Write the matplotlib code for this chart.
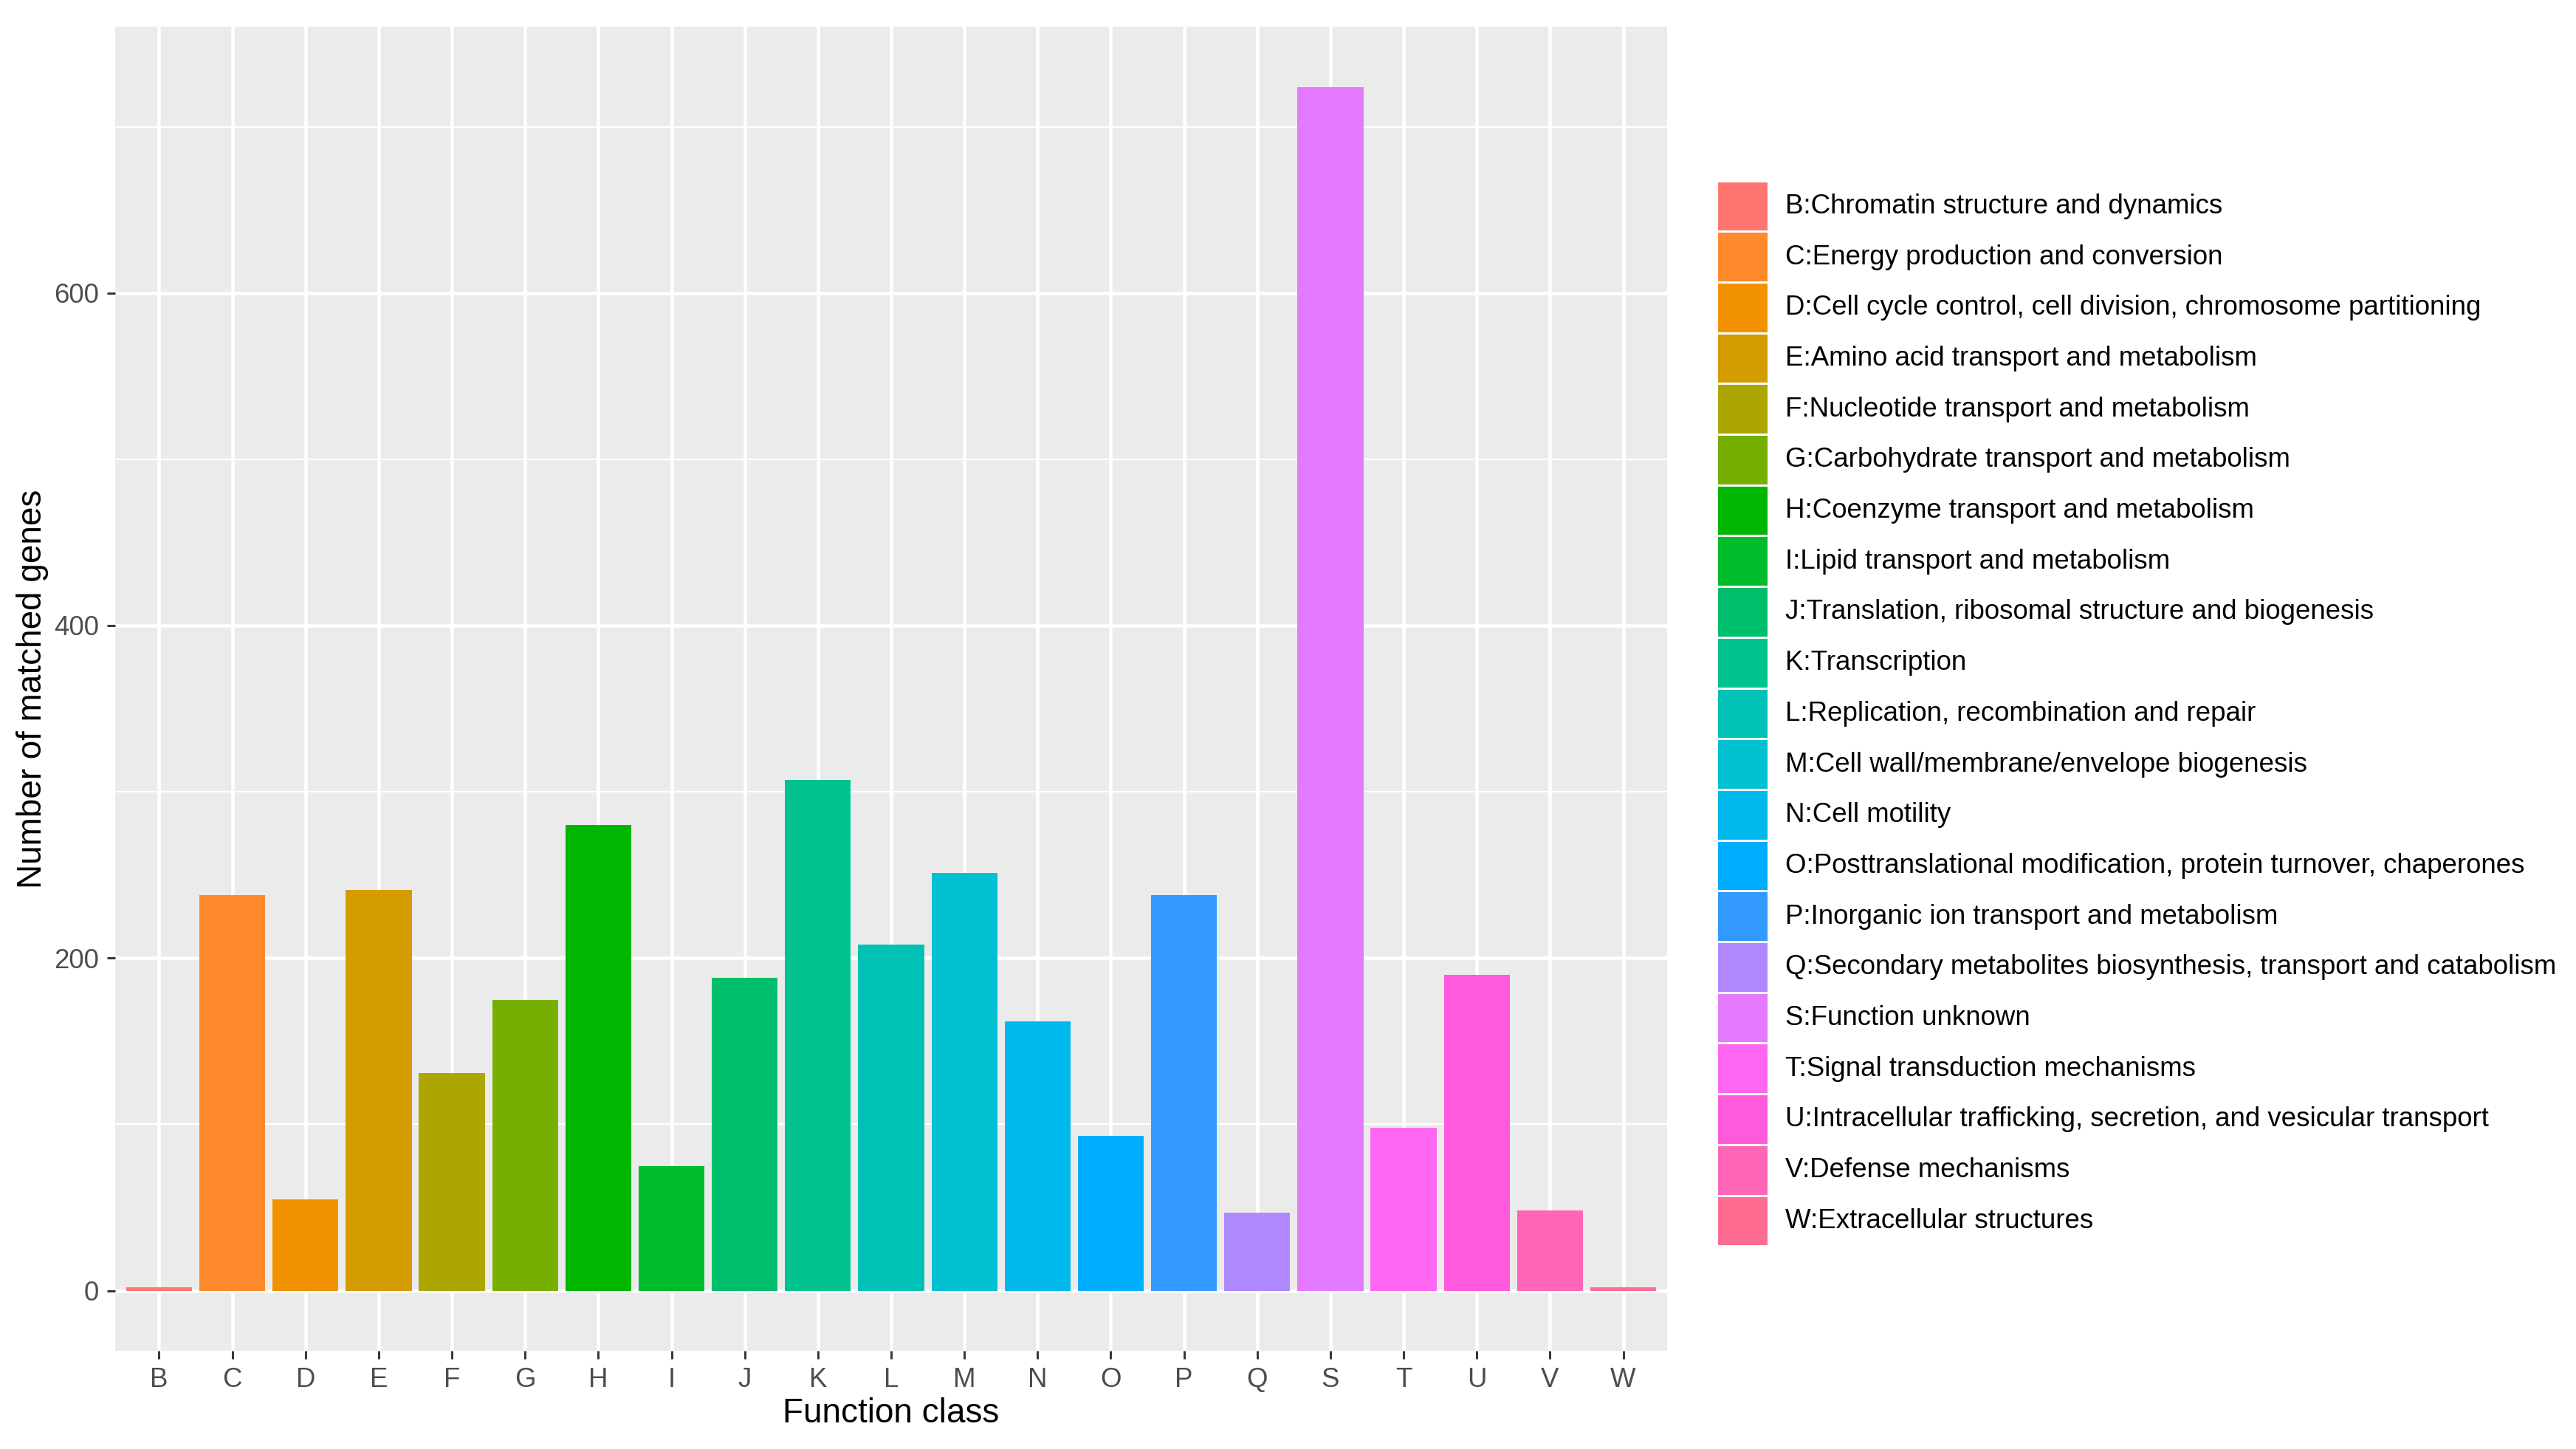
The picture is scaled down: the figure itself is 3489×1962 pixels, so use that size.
import numpy as np
import matplotlib
matplotlib.use("Agg")
import matplotlib.pyplot as plt
from matplotlib.patches import Rectangle

plt.rcParams['font.family'] = ['Liberation Sans', 'DejaVu Sans']

# COG function classes and gene counts
classes = ['B', 'C', 'D', 'E', 'F', 'G', 'H', 'I', 'J', 'K', 'L',
           'M', 'N', 'O', 'P', 'Q', 'S', 'T', 'U', 'V', 'W']
counts = [2, 238, 55, 241, 131, 175, 280, 75, 188, 307, 208,
          251, 162, 93, 238, 47, 724, 98, 190, 48, 2]
descriptions = [
    'Chromatin structure and dynamics',
    'Energy production and conversion',
    'Cell cycle control, cell division, chromosome partitioning',
    'Amino acid transport and metabolism',
    'Nucleotide transport and metabolism',
    'Carbohydrate transport and metabolism',
    'Coenzyme transport and metabolism',
    'Lipid transport and metabolism',
    'Translation, ribosomal structure and biogenesis',
    'Transcription',
    'Replication, recombination and repair',
    'Cell wall/membrane/envelope biogenesis',
    'Cell motility',
    'Posttranslational modification, protein turnover, chaperones',
    'Inorganic ion transport and metabolism',
    'Secondary metabolites biosynthesis, transport and catabolism',
    'Function unknown',
    'Signal transduction mechanisms',
    'Intracellular trafficking, secretion, and vesicular transport',
    'Defense mechanisms',
    'Extracellular structures',
]
y_ticks = [0, 200, 400, 600]

# fill colours as they appear in the figure
colors = ['#FF7570', '#FF8A2B', '#F39200', '#D49C00', '#ADA500', '#77AF00',
          '#00B600', '#00BC2B', '#00BF6C', '#00C38F', '#00C1B6', '#00C0D2',
          '#00B8EC', '#00AEFF', '#3299FF', '#B088FF', '#E47AFF', '#FF67F2',
          '#FF5ADB', '#FF66B8', '#FF6C91']

n = len(classes)
W, H, DPI = 3489, 1962, 300
fig = plt.figure(figsize=(W / DPI, H / DPI), dpi=DPI)
left, right, top, bottom = 156, 2258, 36, 1829
ax = fig.add_axes([left / W, 1 - bottom / H, (right - left) / W, (bottom - top) / H])

x = np.arange(n)
ax.bar(x, counts, width=0.9, color=colors, zorder=3)

ymax = max(counts)
ax.set_xlim(-0.6, n - 1 + 0.6)
ax.set_ylim(-0.05 * ymax, 1.05 * ymax)
ax.set_facecolor('#EBEBEB')
for s in ax.spines.values():
    s.set_visible(False)

ax.set_xticks(x)
ax.set_xticklabels(classes)
ax.set_yticks(y_ticks)
ax.set_yticks([100, 300, 500, 700], minor=True)
ax.grid(which='major', color='white', linewidth=1.1, zorder=0)
ax.grid(which='minor', axis='y', color='white', linewidth=0.55, zorder=0)
ax.set_axisbelow(True)
ax.tick_params(which='major', length=2.75, width=0.7, color='#333333',
               labelsize=8.8, labelcolor='#4D4D4D', pad=2.5)
ax.tick_params(which='minor', length=0)

ax.set_xlabel('Function class', fontsize=11, labelpad=1.4)
ax.set_ylabel('Number of matched genes', fontsize=11, labelpad=1.7)

# legend drawn in figure pixel coordinates (ggplot-style keys)
lax = fig.add_axes([0, 0, 1, 1], facecolor='none')
lax.set_xlim(0, W)
lax.set_ylim(H, 0)
lax.axis('off')
key_x, key_y, key_w, pitch = 2327, 245, 67, 68.7
for i, (c, d) in enumerate(zip(classes, descriptions)):
    y0 = key_y + i * pitch
    lax.add_patch(Rectangle((key_x, y0 + 1.5), key_w, pitch - 3,
                            facecolor=colors[i], edgecolor='none'))
    lax.text(key_x + key_w + 24, y0 + pitch / 2, f'{c}:{d}', fontsize=8.8,
             va='center', ha='left', color='black')

fig.savefig('out.png', dpi=DPI, facecolor='white')
